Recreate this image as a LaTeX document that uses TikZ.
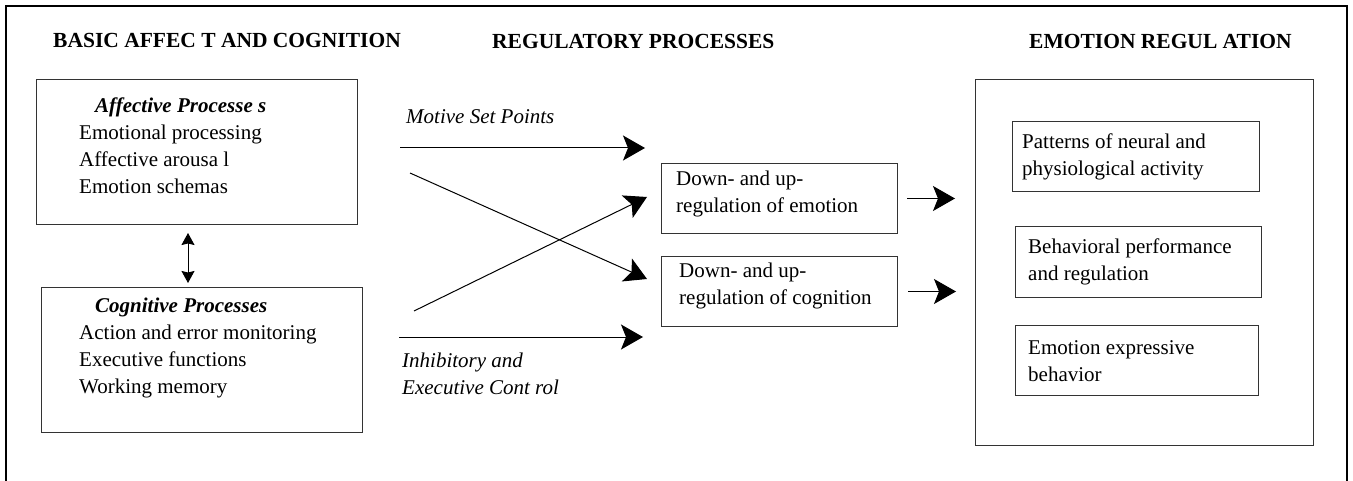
\documentclass[tikz,border=0pt]{standalone}
\usepackage{fontspec}
\setmainfont{Liberation Serif}
\usetikzlibrary{arrows.meta}

\begin{document}
\begin{tikzpicture}[x=1pt, y=-1pt,
box/.style = {draw=black!80, line width=1pt, inner sep=0pt, anchor=north west},
txt/.style = {inner sep=0pt, align=left, anchor=north west,
	font=\fontsize{21}{27}\selectfont},
head/.style = {inner sep=0pt, anchor=base west,
	font=\fontsize{21.5}{26}\selectfont\bfseries},
arr/.style = {line width=1pt, -{Stealth[length=22pt,width=25pt,inset=5pt]}},
dbl/.style = {line width=1pt, {Stealth[length=12pt,width=13pt,inset=1.5pt]}-{Stealth[length=12pt,width=13pt,inset=1.5pt]}}]
\useasboundingbox (0,0) rectangle (1353,481);
\draw[line width=2.2pt] (6,481) -- (6,6) -- (1347,6) -- (1347,481);

% column heads
\node[head] (h1) at (53,48) {BASIC AFFEC T AND COGNITION};
\node[head] (h2) at (492,49) {REGULATORY PROCESSES};
\node[head] (h3) at (1029,49) {EMOTION REGUL ATION};

% basic affect and cognition
\node[box, minimum width=321, minimum height=145] (aff) at (36,79) {};
\node[txt] (afftxt) at (79,97.5) {\hspace*{16pt}\textbf{\textit{Affective Processe s}}\\
	Emotional processing\\ Affective arousa l\\ Emotion schemas};
\node[box, minimum width=321, minimum height=145] (cog) at (41,287) {};
\node[txt] (cogtxt) at (79,297.5) {\hspace*{16pt}\textbf{\textit{Cognitive Processes}}\\
	Action and error monitoring\\ Executive functions\\ Working memory};
\coordinate (affcog1) at (188,233);
\coordinate (affcog2) at (188,283);
\draw[dbl] (affcog1) -- (affcog2);

% regulatory processes
\node[txt] (motive) at (406,109) {\textit{Motive Set Points}};
\node[txt] (inhib) at (402,352.5) {\textit{Inhibitory and}\\ \textit{Executive Cont rol}};
\node[box, minimum width=236, minimum height=70] (emo) at (661,163) {};
\node[txt] (emotxt) at (676,170.5) {Down- and up-\\ regulation of emotion};
\node[box, minimum width=236, minimum height=70] (cgn) at (661,256) {};
\node[txt] (cgntxt) at (679,262.5) {Down- and up-\\ regulation of cognition};

\coordinate (ms1) at (400,148);  \coordinate (ms2) at (645,148);
\coordinate (xa1) at (410,173);  \coordinate (xa2) at (647,279);
\coordinate (xb1) at (414,311);  \coordinate (xb2) at (647,197);
\coordinate (ic1) at (399,337);  \coordinate (ic2) at (643,337);
\draw[arr] (ms1) -- (ms2);
\draw[arr] (xa1) -- (xa2);
\draw[arr] (xb1) -- (xb2);
\draw[arr] (ic1) -- (ic2);

% emotion regulation
\node[box, minimum width=338, minimum height=366] (ereg) at (975,79) {};
\node[box, minimum width=247, minimum height=70] (pat) at (1012,121) {};
\node[txt] (pattxt) at (1022,133.5) {Patterns of neural and\\ physiological activity};
\node[box, minimum width=246, minimum height=71] (beh) at (1015,226) {};
\node[txt] (behtxt) at (1028,238.5) {Behavioral performance\\ and regulation};
\node[box, minimum width=243, minimum height=70] (expr) at (1015,325) {};
\node[txt] (exprtxt) at (1028,340.5) {Emotion expressive\\ behavior};

\draw[arr] ([xshift=9pt]emo.east) -- ([xshift=57pt]emo.east);
\draw[arr] ([xshift=10pt]cgn.east) -- ([xshift=58pt]cgn.east);
\end{tikzpicture}
\end{document}
